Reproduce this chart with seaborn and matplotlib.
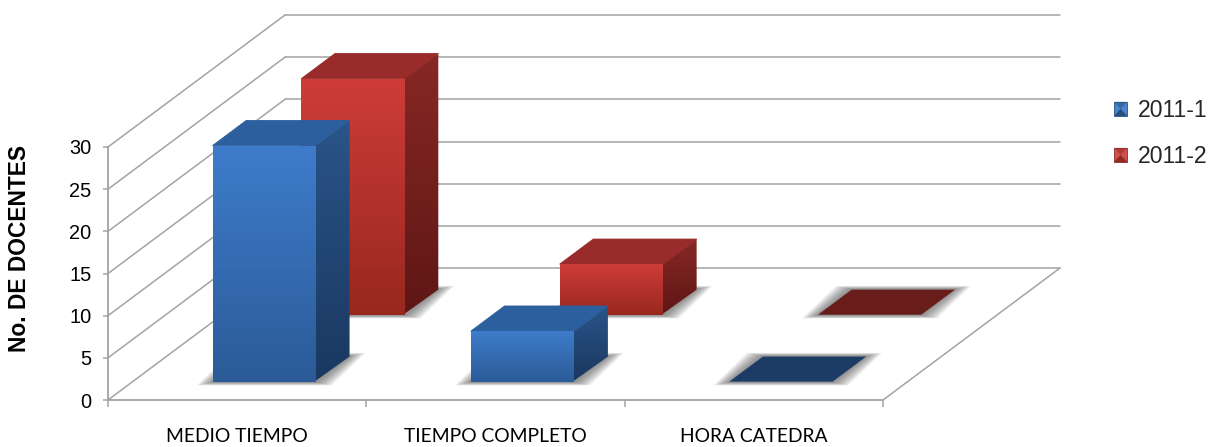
import numpy as np
import seaborn as sns
import matplotlib.pyplot as plt
from matplotlib.colors import to_rgb
from matplotlib.legend_handler import HandlerPatch
from matplotlib.patches import Patch, Polygon, Rectangle

# data
categorias = ["MEDIO TIEMPO", "TIEMPO COMPLETO", "HORA CATEDRA"]
valores_2011_1 = [28, 6, 0]
valores_2011_2 = [28, 6, 0]
ticks_y = [0, 5, 10, 15, 20, 25, 30]

GRIS = "#a3a3a3"
AZUL = {"frente": ("#3e7ccb", "#2b5b98"), "lado": ("#2a5488", "#1a3860"),
        "tapa": "#2c5f9d", "plano": "#1c3c66"}
ROJO = {"frente": ("#ce3c38", "#98281f"), "lado": ("#872825", "#5e1715"),
        "tapa": "#992b2a", "plano": "#681d1a"}

sns.set_style("white")
plt.rcParams["font.family"] = ["Liberation Sans", "DejaVu Sans"]

fig = plt.figure(figsize=(12.12, 4.47), dpi=100)
# the front plane of the 3d box: x 108-883 px, y 147-400 px
ax = fig.add_axes([108 / 1212, 1 - 400 / 447, 775 / 1212, 253 / 447])

# px per data unit, used to turn the oblique depth into data units
PX_X = 775 / 3
PX_Y = 253 / 30
FONDO_X = 177 / PX_X
FONDO_Y = 132 / PX_Y


def profundidad(d):
    return d * FONDO_X, d * FONDO_Y


def degradado(verts, colores, z):
    verts = np.array(verts)
    img = np.linspace(to_rgb(colores[0]), to_rgb(colores[1]), 64)[:, None, :]
    caja = (verts[:, 0].min(), verts[:, 0].max(), verts[:, 1].min(), verts[:, 1].max())
    im = ax.imshow(img, extent=caja, aspect="auto", origin="upper", zorder=z, interpolation="bilinear")
    poli = Polygon(verts, closed=True, transform=ax.transData, fc="none", ec="none")
    ax.add_patch(poli)
    im.set_clip_box(fig.bbox)
    im.set_clip_path(poli)


def sombra(base, z):
    # soft floor shadow: stacked, slightly wider copies of the bar base
    base = np.array(base)
    centro = base.mean(axis=0)
    for e in np.linspace(16, 1, 16):
        pts = base.copy()
        pts[:, 0] += np.sign(pts[:, 0] - centro[0]) * e / PX_X
        pts[:, 1] += np.sign(pts[:, 1] - centro[1]) * (0.5 + e * 0.2) / PX_Y
        ax.add_patch(Polygon(pts, closed=True, fc="#555555", ec="none", alpha=0.055, zorder=z, clip_on=False))


def barras_3d(valores, d0, d1, estilo, z, ajuste_px):
    # seaborn lays out the bars on the category scale, then they get pushed back in depth
    antes = len(ax.patches)
    sns.barplot(x=categorias, y=valores, color=estilo["frente"][0], width=0.4, saturation=1, ax=ax, zorder=z)
    dx0, dy0 = profundidad(d0)
    dx1, dy1 = profundidad(d1)
    ajuste = ajuste_px / PX_X
    for rect in list(ax.patches[antes:]):
        x, w, h = rect.get_x(), rect.get_width(), rect.get_height()
        rect.set_xy((x + dx0 + ajuste, dy0))
        rect.set_clip_on(False)
        rect.set_linewidth(0)
        xa, xb = x + dx0 + ajuste, x + w + dx0 + ajuste
        xc, xd = x + dx1 + ajuste, x + w + dx1 + ajuste
        sombra([(xa, dy0), (xb, dy0), (xd, dy1), (xc, dy1)], z - 0.5)
        tapa = [(xa, dy0 + h), (xb, dy0 + h), (xd, dy1 + h), (xc, dy1 + h)]
        if h == 0:
            ax.add_patch(Polygon(tapa, closed=True, fc=estilo["plano"], ec="none", zorder=z + 0.2, clip_on=False))
            continue
        # side goes first and runs a little under the front face, no gap between them
        solape = 1.5 / PX_X
        degradado([(xb - solape, dy0), (xd, dy1), (xd, dy1 + h), (xb - solape, dy0 + h)], estilo["lado"], z + 0.05)
        degradado([(xa, dy0), (xb, dy0), (xb, dy0 + h), (xa, dy0 + h)], estilo["frente"], z + 0.1)
        ax.add_patch(Polygon(tapa, closed=True, fc=estilo["tapa"], ec=estilo["tapa"], lw=0.6,
                             joinstyle="round", zorder=z + 0.08, clip_on=False))


class HandlerPiramide(HandlerPatch):
    # legend key: square with darker top and bottom wedges, like the original bevel
    def create_artists(self, legend, orig, xd, yd, w, h, fontsize, trans):
        x0, y0 = -xd, -yd
        fondo = Rectangle((x0, y0), w, h, fc=orig.get_facecolor(), ec=orig.get_edgecolor(), lw=0.6, transform=trans)
        centro = (x0 + w / 2, y0 + h / 2)
        abajo = Polygon([(x0, y0), (x0 + w, y0), centro], fc=orig.get_edgecolor(), ec="none", transform=trans)
        arriba = Polygon([(x0, y0 + h), (x0 + w, y0 + h), centro], fc=orig.get_edgecolor(), ec="none",
                         alpha=0.55, transform=trans)
        return [fondo, abajo, arriba]


# walls and floor
fx, fy = profundidad(1)
for v in ticks_y:
    ax.plot([-0.5, -0.5 + fx], [v, v + fy], color=GRIS, lw=1.1, zorder=1, clip_on=False)
    ax.plot([-0.5 + fx, 2.5 + fx], [v + fy, v + fy], color=GRIS, lw=1.1, zorder=1, clip_on=False)
ax.plot([2.5, 2.5 + fx], [0, fy], color=GRIS, lw=1.1, zorder=1, clip_on=False)

barras_3d(valores_2011_2, 0.646, 0.836, ROJO, 3, 1.5)
barras_3d(valores_2011_1, 0.139, 0.329, AZUL, 5, 2.5)

# axes
ax.set_xlim(-0.5, 2.5)
ax.set_ylim(0, 30)
sns.despine(ax=ax, top=True, right=True)
for lado in ("left", "bottom"):
    ax.spines[lado].set_color(GRIS)
    ax.spines[lado].set_linewidth(1.3)
ax.set_yticks(ticks_y)
ax.tick_params(axis="y", left=True, length=3.8, width=1.1, color=GRIS, pad=8, labelsize=14.4, labelcolor="black")
ax.set_xticks([-0.5, 0.5, 1.5, 2.5], labels=[])
ax.tick_params(axis="x", which="major", bottom=True, length=5, width=1.1, color=GRIS)
ax.set_xticks([0, 1, 2], labels=categorias, minor=True, family=["Lato", "DejaVu Sans"], fontsize=13.9)
ax.tick_params(axis="x", which="minor", bottom=False, length=0, pad=20, labelcolor="black")
ax.set_xlabel("")
ax.set_ylabel("")
fig.text(19.5 / 1212, 1 - 248 / 447, "No. DE DOCENTES", rotation=90, ha="center", va="center",
         fontsize=16.4, fontweight="bold", color="black")

# legend
handles = [Patch(fc="#4a86cf", ec="#28507f", lw=0.6, label="2011-1"),
           Patch(fc="#d2504c", ec="#8f2a27", lw=0.6, label="2011-2")]
ax.legend(handles=handles, loc="upper left", bbox_to_anchor=(1114 / 1212, 1 - 99 / 447),
          bbox_transform=fig.transFigure, frameon=False, fontsize=16.6, borderpad=0, borderaxespad=0,
          handlelength=0.57, handleheight=0.57, handletextpad=0.48, labelspacing=1.0,
          handler_map={Patch: HandlerPiramide()})

fig.savefig("out.png", dpi=100)
plt.close()
